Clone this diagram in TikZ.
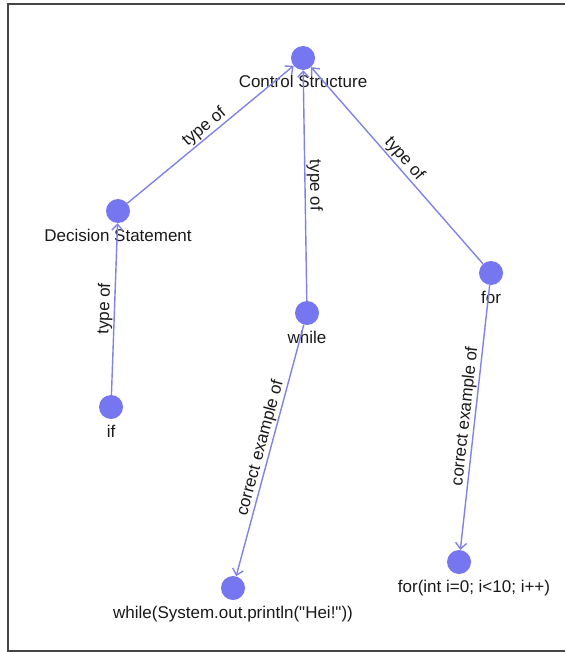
\documentclass[tikz,border=0pt]{standalone}
\usepackage{fontspec}
\setmainfont{Liberation Sans}
\usepackage{xcolor}
\usetikzlibrary{arrows.meta}
\definecolor{vert}{RGB}{118,118,240}
\definecolor{edge}{RGB}{130,130,228}
\definecolor{ink}{RGB}{25,25,25}
\definecolor{frame}{RGB}{70,70,70}

\begin{document}
\begin{tikzpicture}[
  x=1pt, y=-1pt,
  font=\fontsize{17}{20}\selectfont,
  vtx/.style={circle, fill=vert, minimum size=24pt, inner sep=0pt},
  lbl/.style={anchor=base, text=ink, inner sep=0pt},
  rel/.style={-{Straight Barb[length=6pt, width=11pt]}, edge, line width=1.4pt},
  rlab/.style={midway, sloped, above, text=ink, inner sep=1pt}]

  \useasboundingbox (0,0) rectangle (565,652);
  \draw[frame, line width=1.4pt] (565,4) -- (8,4) -- (8,651) -- (565,651);

  % vertices
  \node[vtx] (ctrl)  at (303,58)  {};
  \node[vtx] (dec)   at (118,211) {};
  \node[vtx] (while) at (307,313) {};
  \node[vtx] (for)   at (491,273) {};
  \node[vtx] (if)    at (111,407) {};
  \node[vtx] (wex)   at (233,588) {};
  \node[vtx] (fex)   at (459,562) {};

  % vertex names
  \node[lbl] (ctrlL)  at ([yshift=-30pt]ctrl.center)  {Control Structure};
  \node[lbl] (decL)   at ([yshift=-30pt]dec.center)   {Decision Statement};
  \node[lbl] (whileL) at ([yshift=-30pt]while.center) {while};
  \node[lbl] (forL)   at ([yshift=-30pt]for.center)   {for};
  \node[lbl] (ifL)    at ([yshift=-30pt]if.center)    {if};
  \node[lbl] (wexL)   at ([yshift=-30pt]wex.center)   {while(System.out.println(\textquotedbl Hei!\textquotedbl))};
  \node[lbl] (fexL)   at ([xshift=15pt,yshift=-30pt]fex.center) {for(int i=0; i<10; i++)};

  % relations
  \draw[rel] (dec) -- node[rlab]{type of} (ctrl);
  \draw[rel] (while) -- node[rlab]{type of} (ctrl);
  \draw[rel] (for) -- node[rlab]{type of} (ctrl);
  \draw[rel] (if) -- node[rlab]{type of} (dec);
  \draw[rel] (while) -- node[rlab]{correct example of} (wex);
  \draw[rel] (for) -- node[rlab]{correct example of} (fex);
\end{tikzpicture}
\end{document}
